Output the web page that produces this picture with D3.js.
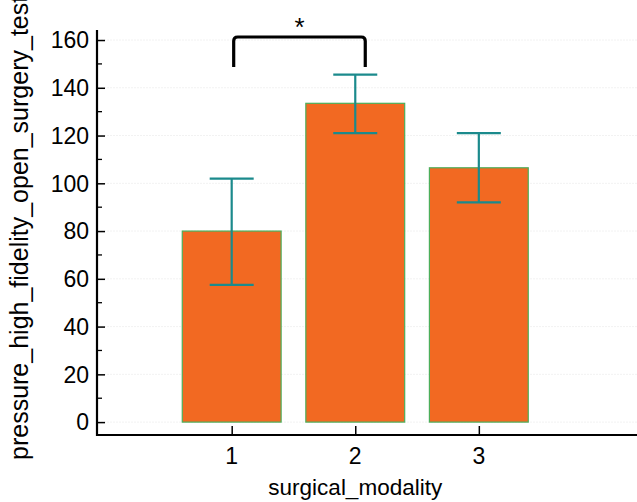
<!DOCTYPE html>
<html>
<head>
<meta charset="utf-8">
<script src="https://cdn.jsdelivr.net/npm/d3@7"></script>
<style>
  body { margin: 0; background: #fff; }
  svg { display: block; font-family: "Liberation Sans", Arial, sans-serif; }
</style>
</head>
<body>
<svg id="chart" width="637" height="502"></svg>
<script>
// data
const categories = [1, 2, 3];
const means = [80, 133.5, 106.5];
const errLow = [57.5, 121, 92];
const errHigh = [102, 145.5, 121];
const yTicks = [0, 20, 40, 60, 80, 100, 120, 140, 160];
const sigPair = [1, 2];
const sigLabel = "*";

const svg = d3.select("#chart");

// scales
const x = d3.scaleLinear().domain([-0.09, 4.28]).range([97, 637]);
const y = d3.scaleLinear().domain([-5.4, 164.2]).range([435, 30]);
const barW = x(0.8) - x(0);

// faint grid
svg.append("g")
    .selectAll("line")
    .data(yTicks)
    .enter()
    .append("line")
    .attr("x1", 98)
    .attr("x2", 637)
    .attr("y1", d => y(d))
    .attr("y2", d => y(d))
    .attr("stroke", "#f2f2f2")
    .attr("stroke-dasharray", "2,1");

// bars
svg.selectAll(".bar")
    .data(means)
    .enter()
    .append("rect")
    .attr("class", "bar")
    .attr("x", (d, i) => x(categories[i]) - barW / 2)
    .attr("y", d => y(d))
    .attr("width", barW)
    .attr("height", d => y(0) - y(d))
    .attr("fill", "#f26922")
    .attr("stroke", "#4cae5a")
    .attr("stroke-width", 1.2);

// error bars
const capW = 44;
svg.selectAll(".err")
    .data(means)
    .enter()
    .append("g")
    .attr("class", "err")
    .each(function(d, i) {
        const g = d3.select(this);
        const cx = x(categories[i]);
        g.append("line")
            .attr("x1", cx).attr("x2", cx)
            .attr("y1", y(errLow[i])).attr("y2", y(errHigh[i]));
        g.append("line")
            .attr("x1", cx - capW / 2).attr("x2", cx + capW / 2)
            .attr("y1", y(errHigh[i])).attr("y2", y(errHigh[i]));
        g.append("line")
            .attr("x1", cx - capW / 2).attr("x2", cx + capW / 2)
            .attr("y1", y(errLow[i])).attr("y2", y(errLow[i]));
        g.selectAll("line")
            .attr("stroke", "#1b8a8c")
            .attr("stroke-width", 2.2);
    });

// Y axis
const yAxis = svg.append("g")
    .attr("transform", "translate(97,0)")
    .call(d3.axisRight(y).tickValues(yTicks).tickSize(8).tickFormat(""));
yAxis.select(".domain").remove();
yAxis.selectAll(".tick line").attr("stroke", "#000").attr("stroke-width", 1.5);

// minor ticks
svg.append("g")
    .selectAll("line")
    .data(d3.range(10, 161, 20))
    .enter()
    .append("line")
    .attr("x1", 97).attr("x2", 102)
    .attr("y1", d => y(d)).attr("y2", d => y(d))
    .attr("stroke", "#000")
    .attr("stroke-width", 1.3);

svg.append("g")
    .selectAll("text")
    .data(yTicks)
    .enter()
    .append("text")
    .attr("x", 89)
    .attr("y", d => y(d))
    .attr("dy", "0.36em")
    .attr("text-anchor", "end")
    .style("font-size", "23px")
    .text(d => d);

// X axis
const xAxis = svg.append("g")
    .attr("transform", "translate(0,435)")
    .call(d3.axisTop(x).tickValues(categories).tickSize(9).tickFormat(""));
xAxis.select(".domain").remove();
xAxis.selectAll(".tick line").attr("stroke", "#000").attr("stroke-width", 1.5);

svg.append("g")
    .selectAll("text")
    .data(categories)
    .enter()
    .append("text")
    .attr("x", d => x(d))
    .attr("y", 464)
    .attr("text-anchor", "middle")
    .style("font-size", "23px")
    .text(d => d);

// axis lines
svg.append("line")
    .attr("x1", 97).attr("x2", 97)
    .attr("y1", 30).attr("y2", 436)
    .attr("stroke", "#000").attr("stroke-width", 2.2);
svg.append("line")
    .attr("x1", 96).attr("x2", 637)
    .attr("y1", 435).attr("y2", 435)
    .attr("stroke", "#000").attr("stroke-width", 2.2);

// axis labels
svg.append("text")
    .attr("x", x(2))
    .attr("y", 495)
    .attr("text-anchor", "middle")
    .style("font-size", "22.5px")
    .text("surgical_modality");

svg.append("text")
    .attr("transform", "translate(28,460) rotate(-90)")
    .attr("text-anchor", "start")
    .style("font-size", "25px")
    .text("pressure_high_fidelity_open_surgery_test");

// significance bracket
const bx1 = x(sigPair[0]) + 2, bx2 = x(sigPair[1]) + 10;
const bTop = 37, bBot = 67, r = 4;
svg.append("path")
    .attr("d", `M${bx1},${bBot} L${bx1},${bTop + r} Q${bx1},${bTop} ${bx1 + r},${bTop}
                L${bx2 - r},${bTop} Q${bx2},${bTop} ${bx2},${bTop + r} L${bx2},${bBot}`)
    .attr("fill", "none")
    .attr("stroke", "#000")
    .attr("stroke-width", 3.2);

svg.append("text")
    .attr("x", (bx1 + bx2) / 2)
    .attr("y", 36)
    .attr("text-anchor", "middle")
    .style("font-size", "26px")
    .text(sigLabel);
</script>
</body>
</html>
